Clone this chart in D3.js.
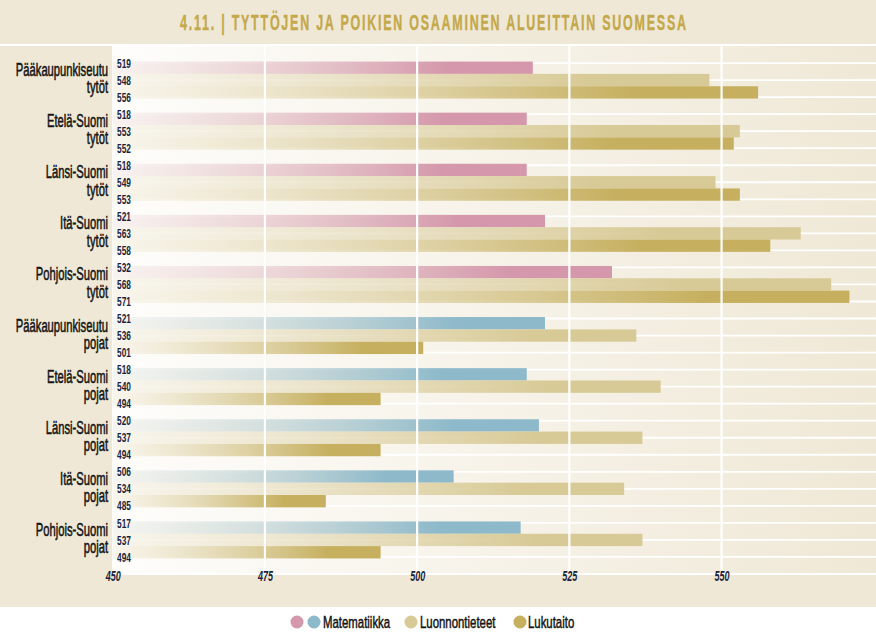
<!DOCTYPE html>
<html><head><meta charset="utf-8">
<script src="https://cdn.jsdelivr.net/npm/d3@7"></script>
<style>html,body{margin:0;padding:0;background:#fff;}svg{display:block;}</style>
</head><body>
<svg id="chart" width="876" height="637"></svg>
<script>
const title = "4.11. | TYTTÖJEN JA POIKIEN OSAAMINEN ALUEITTAIN SUOMESSA";
const regions = ["Pääkaupunkiseutu","Etelä-Suomi","Länsi-Suomi","Itä-Suomi","Pohjois-Suomi",
                 "Pääkaupunkiseutu","Etelä-Suomi","Länsi-Suomi","Itä-Suomi","Pohjois-Suomi"];
const genders = ["tytöt","tytöt","tytöt","tytöt","tytöt","pojat","pojat","pojat","pojat","pojat"];
const matematiikka   = [519,518,518,521,532,521,518,520,506,517];
const luonnontieteet = [548,553,549,563,568,536,540,537,534,537];
const lukutaito      = [556,552,553,558,571,501,494,494,485,494];
const xTicks = [450,475,500,525,550];
const legendLabels = ["Matematiikka","Luonnontieteet","Lukutaito"];

const W = 876, H = 637;
const FONT = "'Liberation Sans',Arial,sans-serif";
const C = {bg:"#efe8d6", pink:"#d497ab", blue:"#8db9ca", tan:"#d8ca96", gold:"#c6b060",
           title:"#c4a84a", ink:"#1d1f3d", dark:"#151515"};

const svg = d3.select("#chart");
const defs = svg.append("defs");

// plot background gradient
const bgG = defs.append("linearGradient").attr("id","plotbg").attr("x1",0).attr("x2",1).attr("y1",0).attr("y2",0);
bgG.append("stop").attr("offset",0).attr("stop-color","#fefdfb");
bgG.append("stop").attr("offset",1).attr("stop-color","#efe8d6");

function barGrad(id, col, startCol){
  const g = defs.append("linearGradient").attr("id",id).attr("x1",0).attr("x2",1).attr("y1",0).attr("y2",0);
  g.append("stop").attr("offset",0).attr("stop-color",startCol).attr("stop-opacity",0.25);
  g.append("stop").attr("offset",0.8).attr("stop-color",col).attr("stop-opacity",1);
  g.append("stop").attr("offset",1).attr("stop-color",col).attr("stop-opacity",1);
}
barGrad("gPink",C.pink,"#e8d2d0"); barGrad("gBlue",C.blue,"#d8dcd2");
barGrad("gTan",C.tan,"#e8dfc4"); barGrad("gGold",C.gold,"#e6dcbc");

// scales
const x = d3.scaleLinear().domain([450,575]).range([112.7,873.8]);
const nRows = 31;
const row = d3.scaleLinear().domain([0,nRows]).range([46,574]);
const plot = {x0:112, x1:W, y0:46, y1:575};

// page background
svg.append("rect").attr("x",0).attr("y",0).attr("width",W).attr("height",607).attr("fill",C.bg);
svg.append("rect").attr("x",plot.x0).attr("y",plot.y0).attr("width",plot.x1-plot.x0).attr("height",plot.y1-plot.y0).attr("fill","url(#plotbg)");

// horizontal white lines
svg.append("g").selectAll("line").data(d3.range(1,nRows+1)).join("line")
  .attr("x1",plot.x0).attr("x2",plot.x1).attr("y1",d=>row(d)).attr("y2",d=>row(d))
  .attr("stroke","#fff").attr("stroke-width",1.8);
svg.append("line").attr("x1",0).attr("x2",W).attr("y1",45).attr("y2",45).attr("stroke","#fff").attr("stroke-width",2.2);

// bars
const series = [matematiikka, luonnontieteet, lukutaito];
const groups = d3.range(regions.length).map(i=>({i, vals: series.map(s=>s[i])}));
const inner = d3.scaleBand().domain([0,1,2]).range([-18.5,18.5]).padding(0);
const gSel = svg.append("g").selectAll("g").data(groups).join("g")
  .attr("transform",d=>`translate(0,${row(3*d.i+2)})`);
gSel.selectAll("rect").data(d=>d.vals.map((v,j)=>({v,j,g:d.i}))).join("rect")
  .attr("x",x(450)).attr("y",d=>inner(d.j)).attr("height",inner.bandwidth())
  .attr("width",d=>x(d.v)-x(450))
  .attr("fill",d=>d.j===0 ? (genders[d.g]==="tytöt"?"url(#gPink)":"url(#gBlue)") : d.j===1 ? "url(#gTan)" : "url(#gGold)");

// vertical white grid lines (over bars)
svg.append("g").selectAll("line").data(xTicks.slice(1)).join("line")
  .attr("x1",d=>x(d)).attr("x2",d=>x(d)).attr("y1",plot.y0).attr("y2",plot.y1)
  .attr("stroke","#fff").attr("stroke-width",2.2);

// value labels
gSel.selectAll("text").data(d=>d.vals.map((v,j)=>({v,j,g:d.i}))).join("text")
  .attr("transform",d=>`translate(124,${row(3*d.g+1+d.j)-row(3*d.g+2)+4.6}) scale(0.64,1)`)
  .attr("text-anchor","middle").attr("font-family",FONT).attr("font-weight","bold")
  .attr("font-size",13).attr("fill",C.ink).text(d=>d.v);

// category labels
const cat = svg.append("g").selectAll("g").data(groups).join("g")
  .attr("transform",d=>`translate(108,${row(3*d.i+2)})`);
cat.append("text").attr("transform","translate(0,-4) scale(0.64,1)")
  .attr("text-anchor","end").attr("font-family",FONT).attr("font-size",17.5).attr("fill",C.dark)
  .attr("stroke",C.dark).attr("stroke-width",0.55)
  .text(d=>regions[d.i]);
cat.append("text").attr("transform","translate(0,13.3) scale(0.64,1)")
  .attr("text-anchor","end").attr("font-family",FONT).attr("font-size",17.5).attr("fill",C.dark)
  .attr("stroke",C.dark).attr("stroke-width",0.55)
  .text(d=>genders[d.i]);

// x axis
const axis = svg.append("g").attr("transform",`translate(0,${plot.y1})`)
  .call(d3.axisBottom(x).tickValues(xTicks).tickSize(0).tickPadding(0).tickFormat(d3.format("d")));
axis.select(".domain").remove();
axis.selectAll(".tick text").attr("y",0).attr("dy",0)
  .attr("transform","translate(0,5.5) scale(0.6,1)")
  .attr("font-family",FONT).attr("font-style","italic").attr("font-weight","bold")
  .attr("font-size",15).attr("fill",C.ink);

// title
svg.append("text").attr("transform","translate(180,29.5) scale(0.58,1)")
  .attr("font-family",FONT).attr("font-weight","bold").attr("font-size",21.5)
  .attr("fill",C.title).attr("stroke",C.title).attr("stroke-width",0.4)
  .attr("textLength",506/0.58).attr("lengthAdjust","spacing")
  .text(title);

// legend
const legendDots = [{cx:297,c:C.pink},{cx:314,c:C.blue},{cx:411,c:C.tan},{cx:520,c:C.gold}];
svg.append("g").selectAll("circle").data(legendDots).join("circle")
  .attr("cx",d=>d.cx).attr("cy",622).attr("r",6.5).attr("fill",d=>d.c);
const legendX = [323,420,528];
svg.append("g").selectAll("text").data(legendLabels).join("text")
  .attr("transform",(d,i)=>`translate(${legendX[i]},627.5) scale(0.7,1)`)
  .attr("font-family",FONT).attr("font-size",16.3).attr("fill",C.dark)
  .attr("stroke",C.dark).attr("stroke-width",0.5).text(d=>d);
</script>
</body></html>
